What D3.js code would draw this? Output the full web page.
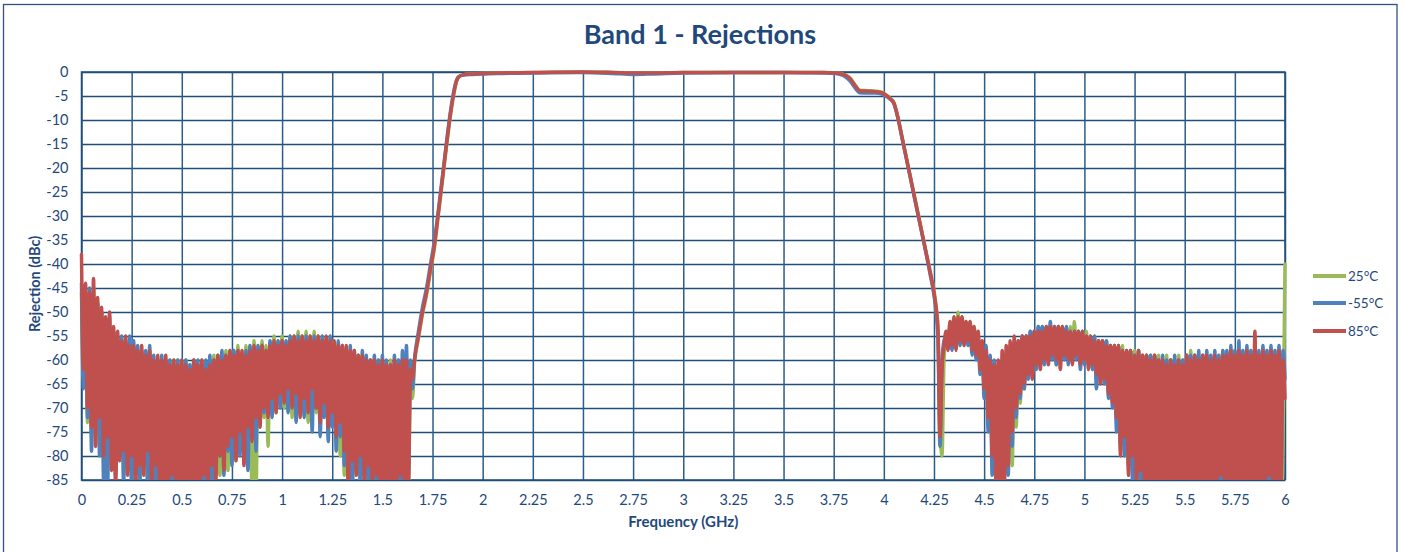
<!DOCTYPE html>
<html><head><meta charset="utf-8">
<script src="https://cdn.jsdelivr.net/npm/d3@7"></script>
<style>
body{margin:0;background:#fff}
svg{display:block}
text{font-family:Lato,"Open Sans",sans-serif}
</style>
</head><body>
<svg id="chart" width="1403" height="552"></svg>
<script>
// ---------- DATA ----------
const seriesNames = ["25°C", "-55°C", "85°C"];
const xTickValues = [0,0.25,0.5,0.75,1,1.25,1.5,1.75,2,2.25,2.5,2.75,3,3.25,3.5,3.75,4,4.25,4.5,4.75,5,5.25,5.5,5.75,6];
const yTickValues = [0,-5,-10,-15,-20,-25,-30,-35,-40,-45,-50,-55,-60,-65,-70,-75,-80,-85];

// lower stop band: 0.00 .. 1.64 GHz, one value per 0.01 GHz
const lowStopStart = 0.00, highStopStart = 4.28, stopStep = 0.01;

const lowStop25 = [
-46,-64,-45,-73,-46,-76,-45,-72,-48,-78,
-50,-80,-52,-82,-53,-79,-55,-83,-56,-80,
-56,-84,-57,-80,-58,-85,-58,-82,-58,-86,
-59,-80,-59,-86,-59,-83,-60,-87,-60,-85,
-60,-86,-60,-84,-60,-88,-60,-85,-60,-87,
-60,-84,-60,-88,-61,-85,-60,-87,-61,-84,
-60,-87,-61,-83,-60,-85,-59,-82,-59,-84,
-59,-80,-58,-83,-58,-78,-58,-81,-57,-76,
-58,-79,-57,-78,-57,-88,-56,-89,-57,-74,
-56,-72,-57,-78,-56,-69,-55,-71,-56,-68,
-55,-70,-56,-67,-55,-72,-55,-68,-54,-71,
-55,-67,-54,-73,-55,-69,-54,-71,-55,-74,
-55,-70,-56,-75,-55,-73,-56,-77,-57,-80,
-57,-84,-58,-81,-58,-86,-59,-83,-59,-87,
-59,-82,-60,-86,-60,-84,-60,-88,-60,-85,
-60,-87,-61,-83,-60,-88,-61,-85,-60,-86,
-60,-84,-59,-88,-61];
const lowStopM55 = [
-44,-66,-46,-72,-45,-79,-47,-70,-48,-80,
-50,-85,-52,-88,-51,-78,-54,-84,-55,-80,
-55,-86,-56,-83,-55,-88,-56,-84,-57,-87,
-58,-82,-58,-88,-57,-85,-59,-89,-60,-84,
-59,-88,-60,-85,-60,-90,-61,-86,-60,-88,
-61,-85,-60,-89,-61,-84,-60,-88,-60,-86,
-61,-89,-60,-82,-59,-86,-60,-84,-59,-80,
-58,-84,-59,-79,-58,-82,-58,-77,-58,-80,
-59,-76,-58,-83,-57,-75,-58,-79,-57,-73,
-57,-71,-58,-68,-56,-72,-57,-67,-56,-70,
-56,-68,-56,-71,-55,-67,-56,-73,-55,-69,
-56,-72,-55,-68,-56,-75,-55,-70,-56,-76,
-55,-72,-56,-77,-55,-74,-57,-79,-56,-76,
-57,-82,-58,-86,-57,-88,-58,-83,-59,-87,
-58,-84,-59,-88,-60,-85,-59,-89,-60,-86,
-59,-88,-60,-84,-61,-87,-59,-85,-60,-89,
-58,-86,-57,-83,-60];
const lowStop85 = [
-38,-62,-44,-70,-46,-74,-43,-78,-47,-72,
-49,-80,-51,-76,-50,-83,-53,-88,-54,-81,
-56,-79,-55,-84,-57,-80,-57,-86,-58,-82,
-57,-84,-59,-79,-58,-86,-60,-82,-59,-88,
-60,-85,-59,-89,-61,-84,-60,-88,-61,-86,
-60,-90,-61,-85,-62,-88,-60,-86,-61,-89,
-60,-84,-62,-87,-61,-82,-60,-85,-59,-80,
-60,-83,-59,-78,-58,-76,-59,-81,-58,-75,
-58,-82,-59,-74,-58,-77,-57,-72,-58,-74,
-57,-70,-58,-72,-57,-68,-56,-71,-57,-67,
-56,-69,-57,-66,-56,-70,-55,-67,-56,-72,
-55,-68,-56,-71,-55,-66,-56,-70,-55,-73,
-56,-69,-55,-74,-56,-71,-56,-76,-57,-73,
-57,-79,-57,-88,-58,-81,-58,-84,-59,-80,
-59,-86,-60,-82,-60,-87,-60,-84,-61,-88,
-60,-85,-61,-89,-61,-86,-60,-88,-61,-84,
-60,-87,-60,-86,-62];

// pass band and transitions
const passFreq = [
1.65,1.66,1.68,1.70,1.72,1.74,1.76,1.78,1.80,1.82,
1.84,1.86,1.87,1.88,1.90,1.95,2.00,2.10,2.25,2.50,
2.65,2.75,2.85,3.00,3.25,3.50,3.70,3.76,3.80,3.83,
3.86,3.88,3.92,3.96,3.99,4.01,4.03,4.05,4.07,4.09,
4.11,4.13,4.15,4.17,4.19,4.21,4.23,4.25,4.26,4.27];
const pass25 = [
-68,-61,-55.5,-50.5,-46.5,-41.5,-36.5,-29.5,-22.5,-15.5,
-9,-3.8,-1.9,-1.1,-0.6,-0.4,-0.3,-0.2,-0.1,0,
-0.1,-0.2,-0.2,-0.1,-0.1,-0.1,-0.1,-0.2,-0.5,-1.2,
-2.9,-3.8,-3.9,-4.0,-4.2,-4.7,-5.4,-6.3,-9.3,-13.3,
-17.3,-21.3,-25.3,-29.3,-33.3,-37.3,-41.3,-45.5,-48.5,-53];
const passM55 = [
-66,-60,-54,-49,-45,-40,-35,-28.5,-21.5,-14.5,
-8,-3.2,-1.7,-1.0,-0.7,-0.5,-0.4,-0.3,-0.2,-0.1,
-0.3,-0.5,-0.4,-0.2,-0.1,-0.1,-0.2,-0.3,-0.8,-1.8,
-3.5,-4.3,-4.4,-4.4,-4.6,-5.0,-5.6,-6.6,-9.6,-13.6,
-17.6,-21.6,-25.7,-29.7,-33.7,-37.7,-42,-46.5,-50,-56];
const pass85 = [
-64,-60,-55,-50,-46,-41,-36,-29,-22,-15,
-8.5,-3.5,-1.8,-1.0,-0.6,-0.4,-0.3,-0.2,-0.1,0,
-0.1,-0.2,-0.2,-0.1,-0.1,-0.1,-0.1,-0.2,-0.5,-1.3,
-3.0,-3.9,-4.0,-4.1,-4.3,-4.8,-5.5,-6.5,-9.5,-13.5,
-17.5,-21.5,-25.5,-29.5,-33.5,-37.5,-41.5,-46,-49,-54];

// upper stop band: 4.28 .. 6.00 GHz, one value per 0.01 GHz
const highStop25 = [
-74,-80,
-60,-55,-57,-52,-56,-51,-57,-50,-56,-51,
-57,-52,-56,-52,-57,-53,-58,-55,-61,-56,
-65,-58,-70,-60,-78,-61,-86,-62,-88,-61,
-85,-60,-80,-58,-82,-57,-74,-56,-69,-55,
-66,-55,-63,-54,-63,-54,-61,-53,-61,-53,
-60,-53,-60,-53,-59,-53,-61,-53,-60,-53,
-59,-53,-60,-53,-60,-52,-59,-54,-61,-54,
-60,-54,-61,-55,-62,-55,-63,-56,-64,-56,
-65,-56,-66,-57,-69,-57,-73,-57,-79,-57,
-77,-58,-83,-58,-81,-58,-86,-58,-84,-59,
-87,-59,-84,-59,-88,-59,-85,-59,-89,-60,
-86,-59,-88,-60,-85,-60,-89,-59,-86,-60,
-88,-59,-85,-58,-89,-59,-86,-59,-88,-59,
-85,-59,-88,-59,-86,-59,-89,-59,-85,-58,
-88,-59,-86,-58,-89,-58,-85,-59,-88,-58,
-86,-58,-89,-58,-85,-59,-88,-59,-86,-58,
-89,-58,-85,-59,-88,-58,-86,-59,-89,-78,
-40];
const highStopM55 = [
-78,-60,
-56,-55,-57,-53,-58,-52,-57,-52,-57,-52,
-56,-53,-57,-53,-59,-54,-60,-55,-63,-57,
-68,-57,-75,-59,-84,-60,-89,-61,-88,-60,
-86,-59,-84,-57,-78,-56,-72,-56,-68,-55,
-66,-55,-64,-54,-63,-54,-62,-53,-61,-53,
-61,-53,-60,-52,-60,-53,-61,-53,-60,-53,
-60,-53,-61,-54,-60,-54,-60,-54,-62,-54,
-61,-55,-61,-55,-62,-55,-66,-56,-64,-56,
-65,-56,-68,-57,-70,-57,-75,-57,-78,-58,
-80,-58,-82,-58,-86,-59,-84,-58,-88,-59,
-86,-59,-89,-59,-85,-59,-88,-60,-86,-59,
-89,-60,-85,-60,-88,-59,-86,-60,-89,-60,
-85,-59,-88,-59,-86,-59,-89,-58,-85,-59,
-88,-58,-86,-59,-89,-58,-85,-59,-88,-58,
-86,-58,-89,-57,-85,-58,-88,-56,-86,-58,
-89,-57,-85,-58,-88,-57,-86,-58,-89,-57,
-85,-58,-88,-57,-86,-58,-89,-57,-85,-58,
-64];
const highStop85 = [
-76,-62,
-57,-54,-58,-52,-57,-51,-58,-51,-56,-51,
-57,-52,-56,-52,-58,-53,-59,-54,-62,-56,
-66,-58,-72,-60,-80,-61,-88,-60,-90,-58,
-87,-57,-82,-56,-75,-55,-70,-56,-67,-55,
-65,-55,-63,-55,-64,-54,-61,-54,-62,-54,
-60,-53,-61,-53,-59,-53,-60,-53,-62,-53,
-59,-54,-60,-54,-61,-54,-59,-54,-61,-54,
-60,-55,-62,-55,-61,-56,-63,-56,-65,-56,
-64,-57,-67,-57,-69,-57,-72,-57,-80,-58,
-76,-58,-84,-58,-80,-59,-87,-58,-83,-59,
-88,-59,-85,-60,-89,-59,-86,-60,-90,-60,
-86,-61,-88,-60,-85,-61,-89,-60,-86,-61,
-88,-59,-85,-60,-89,-59,-86,-60,-88,-59,
-85,-59,-89,-60,-86,-59,-88,-60,-84,-59,
-87,-59,-85,-58,-88,-59,-86,-58,-89,-59,
-85,-58,-88,-59,-86,-54,-87,-59,-85,-58,
-88,-59,-84,-58,-87,-59,-85,-58,-86,-60,
-68];

// ---------- BUILD ----------
function buildSeries(low, passVals, high) {
  const pts = [];
  low.forEach((v, i) => pts.push([+(lowStopStart + i * stopStep).toFixed(2), v]));
  passVals.forEach((v, i) => pts.push([passFreq[i], v]));
  high.forEach((v, i) => pts.push([+(highStopStart + i * stopStep).toFixed(2), v]));
  return pts;
}
const series = [
  {name: seriesNames[0], color: "#9BBB59", pts: buildSeries(lowStop25, pass25, highStop25)},
  {name: seriesNames[1], color: "#4F81BD", pts: buildSeries(lowStopM55, passM55, highStopM55)},
  {name: seriesNames[2], color: "#C0504D", pts: buildSeries(lowStop85, pass85, highStop85)}
];

// ---------- DRAW ----------
const L = 81.5, R = 1285, T = 72, B = 480;
const svg = d3.select("#chart");
const ink = "#1F497D";

svg.append("rect").attr("x", 3.5).attr("y", 4.5).attr("width", 1393.5).attr("height", 600)
  .attr("fill", "#fff").attr("stroke", "#2E5283").attr("stroke-width", 1.3);

const x = d3.scaleLinear().domain([0, 6]).range([L, R]);
const y = d3.scaleLinear().domain([0, -85]).range([T, B]);

// grid + y labels
const gy = svg.append("g").attr("transform", `translate(${L},0)`)
  .call(d3.axisLeft(y).tickValues(yTickValues).tickSize(-(R - L)).tickPadding(13).tickFormat(d => d));
gy.select(".domain").remove();
gy.selectAll("line").attr("stroke", "#1F4E79").attr("stroke-width", 1.5);
gy.selectAll("text").attr("fill", ink).attr("font-size", 14.5);

const gx = svg.append("g").attr("transform", `translate(0,${B})`)
  .call(d3.axisBottom(x).tickValues(xTickValues).tickSize(-(B - T)).tickPadding(15).tickFormat(d => d));
gx.select(".domain").remove();
gx.selectAll("line").attr("stroke", "#2B5C8A").attr("stroke-width", 1.5);
gx.selectAll("text").attr("fill", ink).attr("font-size", 14.5);

svg.append("rect").attr("x", L).attr("y", T).attr("width", R - L).attr("height", B - T)
  .attr("fill", "none").attr("stroke", "#1F4E79").attr("stroke-width", 1.5);

svg.append("clipPath").attr("id", "plotclip").append("rect")
  .attr("x", L - 3).attr("y", T - 6).attr("width", R - L + 6).attr("height", B - T + 6);

const line = d3.line().x(d => x(d[0])).y(d => y(d[1])).curve(d3.curveMonotoneX);
const lg = svg.append("g").attr("clip-path", "url(#plotclip)");
series.forEach(s => {
  lg.append("path").datum(s.pts).attr("d", line)
    .attr("fill", "none").attr("stroke", s.color).attr("stroke-width", 3.5)
    .attr("stroke-linejoin", "round").attr("stroke-linecap", "round");
});

// titles
svg.append("text").attr("x", 700).attr("y", 44).attr("text-anchor", "middle")
  .attr("font-size", 27).attr("font-weight", "bold").attr("fill", ink).text("Band 1 - Rejections");
svg.append("text").attr("x", (L + R) / 2).attr("y", 527).attr("text-anchor", "middle")
  .attr("font-size", 15).attr("font-weight", "bold").attr("fill", ink).text("Frequency (GHz)");
svg.append("text").attr("transform", `translate(40,284) rotate(-90)`).attr("text-anchor", "middle")
  .attr("font-size", 14.5).attr("font-weight", "bold").attr("fill", ink).text("Rejection (dBc)");

// legend
const legY = [276, 303, 331];
series.forEach((s, i) => {
  svg.append("line").attr("x1", 1313).attr("x2", 1346).attr("y1", legY[i]).attr("y2", legY[i])
    .attr("stroke", s.color).attr("stroke-width", 4);
  svg.append("text").attr("x", 1348).attr("y", legY[i] + 5).attr("font-size", 13.5)
    .attr("fill", ink).text(s.name);
});
</script>
</body></html>
